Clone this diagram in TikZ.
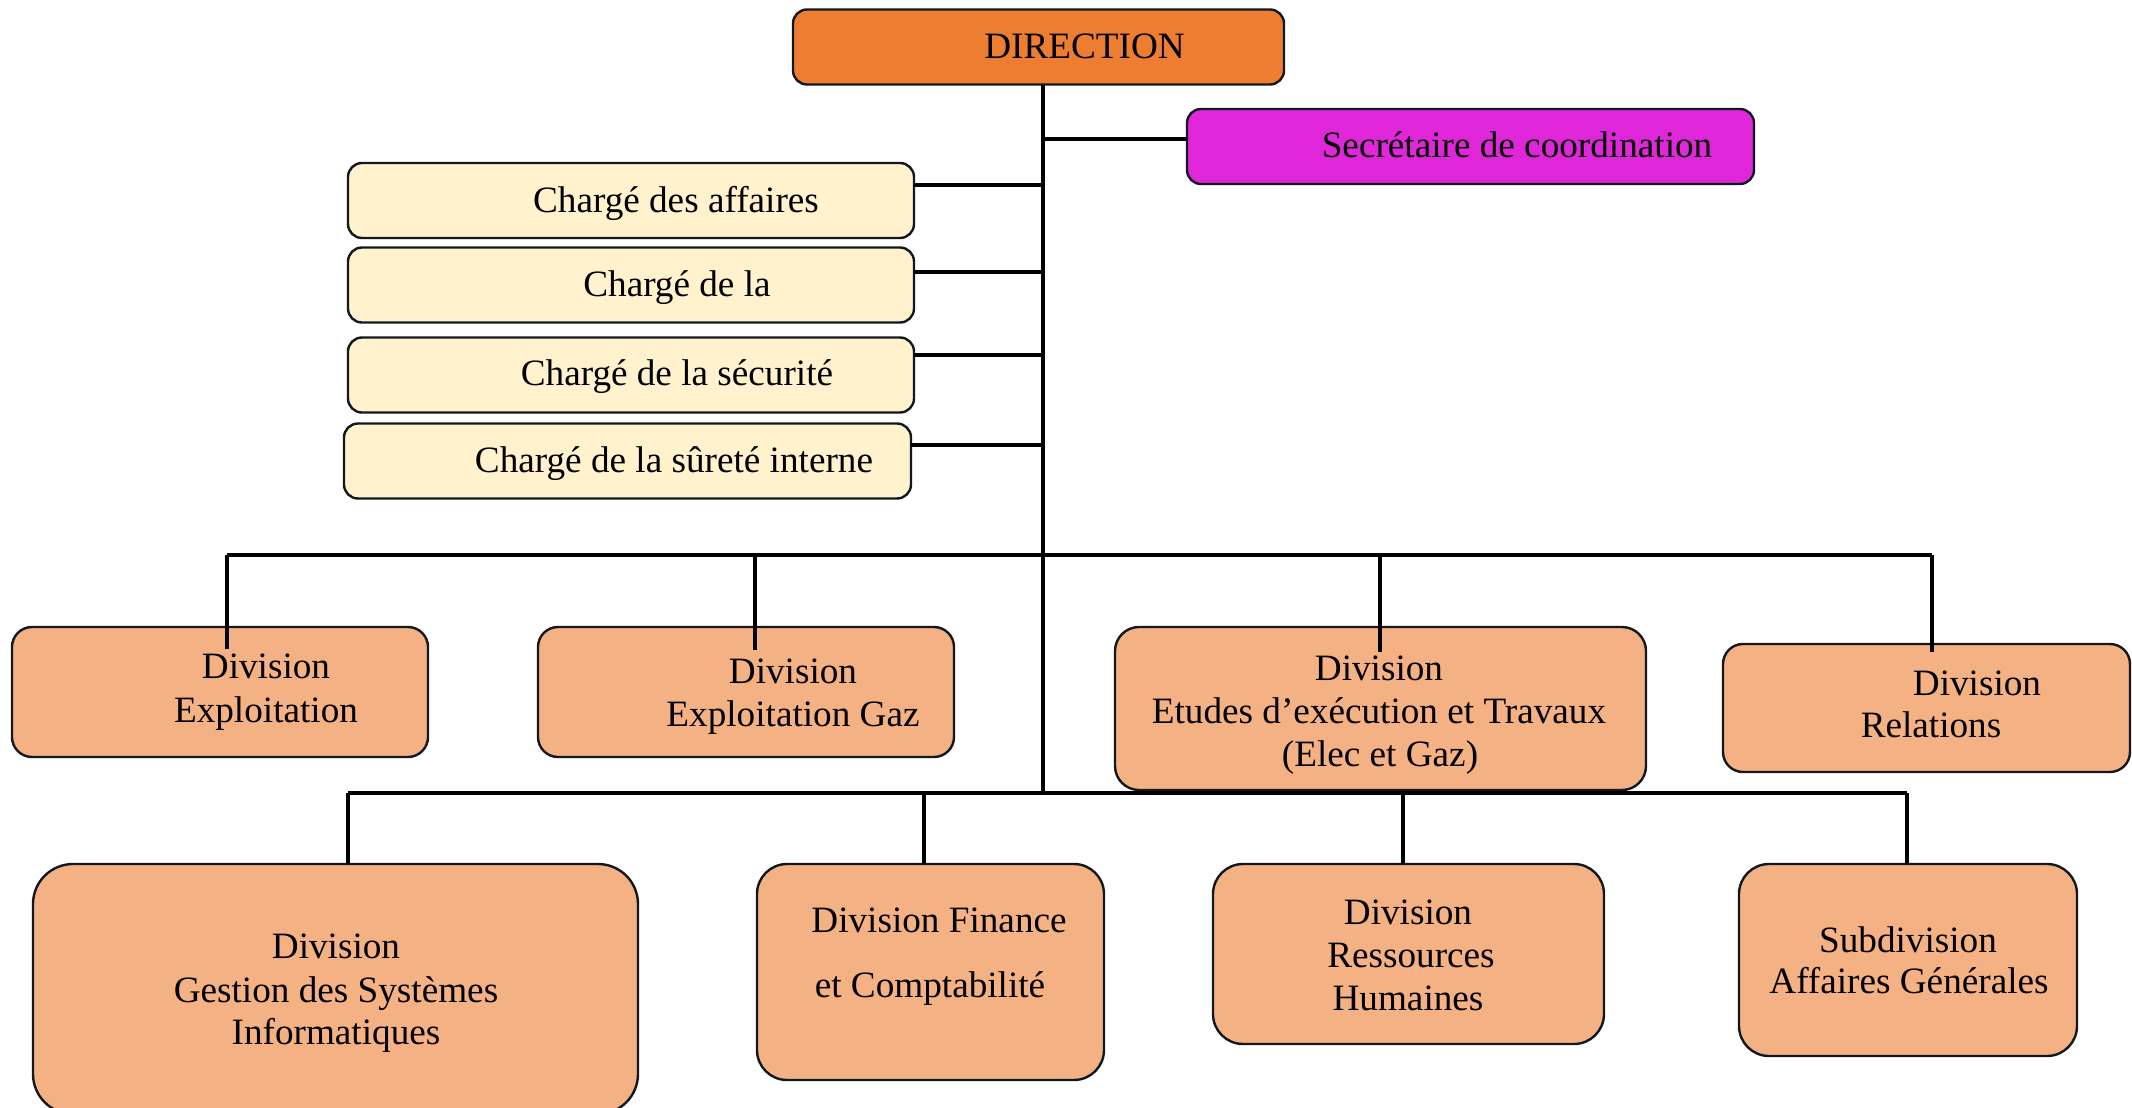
\documentclass[tikz,border=0pt]{standalone}
\usepackage{fontspec}
\setmainfont{Liberation Serif}
\definecolor{dirc}{HTML}{ED7D31}
\definecolor{secc}{HTML}{E026D9}
\definecolor{crem}{HTML}{FFF2CC}
\definecolor{salm}{HTML}{F4B183}
\definecolor{edge}{HTML}{111820}
\tikzset{
  box/.style={draw=edge, line width=1.2pt, inner sep=0pt, outer sep=0pt, rounded corners=7pt},
  conn/.style={line width=1.7pt, black},
  drop/.style={line width=1.6pt, black},
  txt/.style={anchor=base, inner sep=0pt, font=\fontsize{18.6}{21.8}\selectfont}
}
\begin{document}
\begin{tikzpicture}[x=0.5pt,y=-0.5pt]
\useasboundingbox (0,0) rectangle (2132,1108);
% boxes
\node[box, fill=dirc, minimum width=245.5pt, minimum height=37.5pt] (dir) at (1038.5,47) {};
\node[box, fill=secc, minimum width=283.5pt, minimum height=37.5pt] (sec) at (1470.5,146.5) {};
\node[box, fill=crem, minimum width=283pt, minimum height=37.5pt] (c1) at (631,200.5) {};
\node[box, fill=crem, minimum width=283pt, minimum height=37.5pt] (c2) at (631,285) {};
\node[box, fill=crem, minimum width=283pt, minimum height=37.5pt] (c3) at (631,375) {};
\node[box, fill=crem, minimum width=283.5pt, minimum height=37.5pt] (c4) at (627.5,461) {};
% row 1
\node[box, fill=salm, rounded corners=10pt, minimum width=208pt, minimum height=65pt] (d1) at (220,692) {};
\node[box, fill=salm, rounded corners=10pt, minimum width=208pt, minimum height=65pt] (d2) at (746,692) {};
\node[box, fill=salm, rounded corners=12pt, minimum width=265.5pt, minimum height=81.5pt] (d3) at (1380.5,708.5) {};
\node[box, fill=salm, rounded corners=10pt, minimum width=203.5pt, minimum height=64pt] (d4) at (1926.5,708) {};
% row 2
\node[box, fill=salm, rounded corners=20pt, minimum width=302.5pt, minimum height=125pt] (e1) at (335.5,989) {};
\node[box, fill=salm, rounded corners=15pt, minimum width=173.5pt, minimum height=108pt] (e2) at (930.5,972) {};
\node[box, fill=salm, rounded corners=15pt, minimum width=195.5pt, minimum height=90pt] (e3) at (1408.5,954) {};
\node[box, fill=salm, rounded corners=15pt, minimum width=169pt, minimum height=96pt] (e4) at (1908,960) {};
% coordinates
\coordinate (trunk) at (1043,793);
\coordinate (ys) at (0,139);
\coordinate (y1) at (0,185);
\coordinate (y2) at (0,272);
\coordinate (y3) at (0,355);
\coordinate (y4) at (0,445);
\coordinate (b1l) at (227,555);
\coordinate (b1r) at (1932,555);
\coordinate (b2l) at (348,793);
\coordinate (b2r) at (1907,793);
% connectors
\draw[conn] (dir.south -| trunk) -- (trunk);
\draw[conn] (trunk |- ys) -- (sec.west |- ys);
\draw[conn] (c1.east |- y1) -- (trunk |- y1);
\draw[conn] (c2.east |- y2) -- (trunk |- y2);
\draw[conn] (c3.east |- y3) -- (trunk |- y3);
\draw[conn] (c4.east |- y4) -- (trunk |- y4);
\draw[conn] (b1l) -- (b1r);
\draw[conn] (b2l) -- (b2r);
\draw[drop] (b1l) -- ++(0,94);
\draw[drop] (755,555) -- ++(0,95);
\draw[drop] (1380,555) -- ++(0,97);
\draw[drop] (b1r) -- ++(0,97);
\draw[drop] (b2l) -- (e1.north -| b2l);
\draw[drop] (924,793) -- (e2.north -| 924,0);
\draw[drop] (1403,793) -- (e3.north -| 1403,0);
\draw[drop] (b2r) -- (e4.north -| b2r);
% texts
\node[txt] (tdir) at (1084.5,58) {DIRECTION};
\node[txt] (tsec) at (1517,157) {Secrétaire de coordination};
\node[txt] (tc1) at (676,212) {Chargé des affaires};
\node[txt] (tc2) at (677,296) {Chargé de la};
\node[txt] (tc3) at (677,385) {Chargé de la sécurité};
\node[txt] (tc4) at (674,472) {Chargé de la sûreté interne};
\node[txt] (td1a) at (266,678) {Division};
\node[txt] (td1b) at (266,722) {Exploitation};
\node[txt] (td2a) at (793,683) {Division};
\node[txt] (td2b) at (793,726) {Exploitation Gaz};
\node[txt] (td3a) at (1379,680) {Division};
\node[txt] (td3b) at (1379,723) {Etudes d’exécution et Travaux};
\node[txt] (td3c) at (1380,766) {(Elec et Gaz)};
\node[txt] (td4a) at (1977,695) {Division};
\node[txt] (td4b) at (1931,737) {Relations};
\node[txt] (te1a) at (336,958) {Division};
\node[txt] (te1b) at (336,1002) {Gestion des Systèmes};
\node[txt] (te1c) at (336,1044) {Informatiques};
\node[txt] (te2a) at (939,932) {Division Finance};
\node[txt] (te2b) at (930,997) {et Comptabilité};
\node[txt] (te3a) at (1408,924) {Division};
\node[txt] (te3b) at (1411,967) {Ressources};
\node[txt] (te3c) at (1408,1010) {Humaines};
\node[txt] (te4a) at (1908,952) {Subdivision};
\node[txt] (te4b) at (1909,993) {Affaires Générales};
\end{tikzpicture}
\end{document}
